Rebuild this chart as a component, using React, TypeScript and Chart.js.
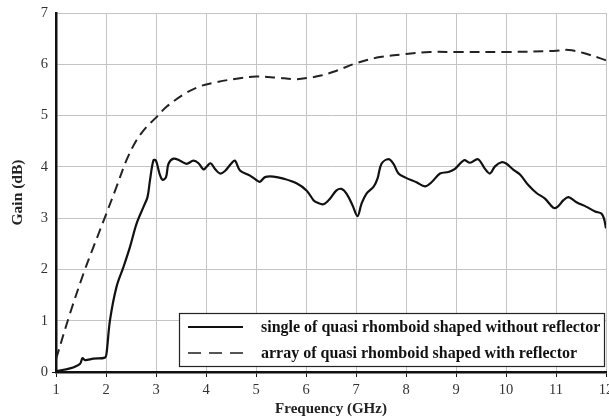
import React, { useEffect, useRef } from "react";
import { Chart, registerables } from "chart.js";

Chart.register(...registerables);

// ---- data ----
const freqSingle = [
  1.0, 1.28, 1.48, 1.53, 1.58, 1.75, 1.98, 2.01, 2.08, 2.21, 2.35, 2.48, 2.61, 2.75, 2.83, 2.88,
  2.95, 3.0, 3.07, 3.13, 3.2, 3.25, 3.35, 3.48, 3.61, 3.75, 3.85, 3.95, 4.01, 4.09, 4.18, 4.28,
  4.38, 4.51, 4.58, 4.68, 4.88, 5.01, 5.08, 5.18, 5.35, 5.55, 5.81, 6.01, 6.15, 6.21, 6.35, 6.48,
  6.61, 6.71, 6.81, 6.93, 7.03, 7.11, 7.21, 7.35, 7.43, 7.51, 7.65, 7.75, 7.85, 7.99, 8.21, 8.38,
  8.51, 8.68, 8.85, 8.98, 9.16, 9.28, 9.44, 9.58, 9.68, 9.78, 9.91, 10.01, 10.15, 10.28, 10.45,
  10.61, 10.78, 10.95, 11.03, 11.15, 11.25, 11.41, 11.61, 11.78, 11.91, 11.96, 12.0,
];
const gainSingle = [
  0.02, 0.07, 0.16, 0.27, 0.23, 0.26, 0.28, 0.36, 1.01, 1.66, 2.05, 2.44, 2.89, 3.22, 3.41, 3.74,
  4.13, 4.12, 3.87, 3.75, 3.8, 4.06, 4.16, 4.12, 4.06, 4.12, 4.07, 3.95, 4.0, 4.07, 3.96, 3.87,
  3.92, 4.07, 4.12, 3.93, 3.83, 3.74, 3.71, 3.8, 3.81, 3.77, 3.68, 3.54, 3.35, 3.31, 3.27, 3.38,
  3.54, 3.57, 3.48, 3.25, 3.04, 3.28, 3.48, 3.61, 3.77, 4.06, 4.15, 4.06, 3.87, 3.79, 3.7, 3.62,
  3.7, 3.87, 3.9, 3.96, 4.13, 4.08, 4.15, 3.96, 3.87, 4.01, 4.09, 4.06, 3.94, 3.85, 3.64,
  3.49, 3.38, 3.2, 3.22, 3.35, 3.41, 3.31, 3.22, 3.13, 3.09, 2.99, 2.8,
];

const freqArray = [
  1.0, 1.28, 1.55, 1.75, 1.98, 2.21, 2.41, 2.61, 2.81, 3.0, 3.21, 3.55, 3.88, 4.21, 4.61, 5.0,
  5.41, 5.81, 6.08, 6.3, 6.6, 7.0, 7.48, 8.0, 8.48, 9.0, 10.0, 10.95, 11.25, 11.55, 12.0,
];
const gainArray = [
  0.25, 1.14, 1.92, 2.44, 3.02, 3.61, 4.13, 4.52, 4.78, 4.96, 5.17, 5.41, 5.57, 5.65, 5.72, 5.76,
  5.74, 5.71, 5.74, 5.78, 5.87, 6.02, 6.14, 6.2, 6.24, 6.24, 6.24, 6.26, 6.28, 6.22, 6.08,
];

const seriesLabels = [
  "single of quasi rhomboid shaped without reflector",
  "array of quasi rhomboid shaped with reflector",
];
const xTitle = "Frequency (GHz)";
const yTitle = "Gain (dB)";
const xMin = 1;
const xMax = 12;
const yMin = 0;
const yMax = 7;

const SERIF = "'Liberation Serif', 'Times New Roman', serif";

const boxLegend = {
  id: "boxLegend",
  afterDatasetsDraw(chart: any) {
    const { ctx, chartArea } = chart;
    const right = chartArea.right - 1;
    const bottom = chartArea.bottom - 5;
    const left = chartArea.left + 123;
    const top = bottom - 54;
    ctx.save();
    ctx.fillStyle = "#ffffff";
    ctx.fillRect(left, top, right - left, bottom - top);
    ctx.strokeStyle = "#222222";
    ctx.lineWidth = 1.2;
    ctx.strokeRect(left + 0.5, top + 0.5, right - left - 1, bottom - top - 1);
    chart.data.datasets.forEach((ds: any, i: number) => {
      const y = top + 14 + i * 26;
      ctx.beginPath();
      ctx.setLineDash(i === 0 ? [] : [13, 8]);
      ctx.strokeStyle = i === 0 ? "#111111" : "#555555";
      ctx.lineWidth = 2;
      ctx.moveTo(left + 9, y);
      ctx.lineTo(left + 64, y);
      ctx.stroke();
      ctx.setLineDash([]);
      ctx.fillStyle = "#111111";
      ctx.font = `bold 16px ${SERIF}`;
      ctx.textBaseline = "middle";
      ctx.textAlign = "left";
      ctx.fillText(ds.label, left + 82, y + 1);
    });
    ctx.restore();
  },
};

export default function App() {
  const canvasRef = useRef<HTMLCanvasElement | null>(null);

  useEffect(() => {
    const canvas = canvasRef.current;
    if (!canvas) return;
    const chart = new Chart(canvas, {
      type: "line",
      data: {
        datasets: [
          {
            label: seriesLabels[0],
            data: freqSingle.map((f, i) => ({ x: f, y: gainSingle[i] })),
            borderColor: "#111111",
            borderWidth: 2.2,
            pointRadius: 0,
            tension: 0.35,
            fill: false,
          },
          {
            label: seriesLabels[1],
            data: freqArray.map((f, i) => ({ x: f, y: gainArray[i] })),
            borderColor: "#222222",
            borderWidth: 2,
            borderDash: [10, 6],
            pointRadius: 0,
            tension: 0.35,
            fill: false,
          },
        ],
      },
      options: {
        animation: false,
        responsive: false,
        devicePixelRatio: 1,
        layout: { padding: { top: 13, right: 14, left: 0, bottom: 0 } },
        plugins: {
          legend: { display: false },
          tooltip: { enabled: false },
        },
        scales: {
          x: {
            type: "linear",
            min: xMin,
            max: xMax,
            afterFit: (s: any) => {
              s.height = 46;
            },
            ticks: {
              stepSize: 1,
              font: { family: SERIF, size: 14.5 },
              color: "#333333",
              padding: 4,
            },
            grid: {
              color: "#c4c4c4",
              lineWidth: 1,
              tickColor: "#111111",
              tickLength: 5,
            },
            border: { color: "#111111", width: 2.5 },
            title: {
              display: true,
              text: xTitle,
              font: { family: SERIF, size: 15, weight: "bold" },
              color: "#222222",
              padding: { top: 0, bottom: 0 },
            },
          },
          y: {
            type: "linear",
            min: yMin,
            max: yMax,
            afterFit: (s: any) => {
              s.width = 56;
            },
            ticks: {
              stepSize: 1,
              font: { family: SERIF, size: 14.5 },
              color: "#333333",
              padding: 4,
            },
            grid: {
              color: "#c4c4c4",
              lineWidth: 1,
              tickColor: (c: any) => (c.tick && c.tick.value === 0 ? "#111111" : "rgba(0,0,0,0)"),
              tickLength: 4,
            },
            border: { color: "#111111", width: 2.5 },
            title: {
              display: true,
              text: yTitle,
              font: { family: SERIF, size: 15.5, weight: "bold" },
              color: "#222222",
              padding: { top: 9, bottom: 0 },
            },
          },
        },
      },
      plugins: [boxLegend],
    });
    return () => chart.destroy();
  }, []);

  return (
    <div
      style={{
        position: "fixed",
        left: 0,
        top: 0,
        width: 609,
        height: 418,
        overflow: "hidden",
        background: "#ffffff",
      }}
    >
      <canvas
        ref={canvasRef}
        width={620}
        height={418}
        style={{ display: "block", width: 620, height: 418 }}
      />
    </div>
  );
}
